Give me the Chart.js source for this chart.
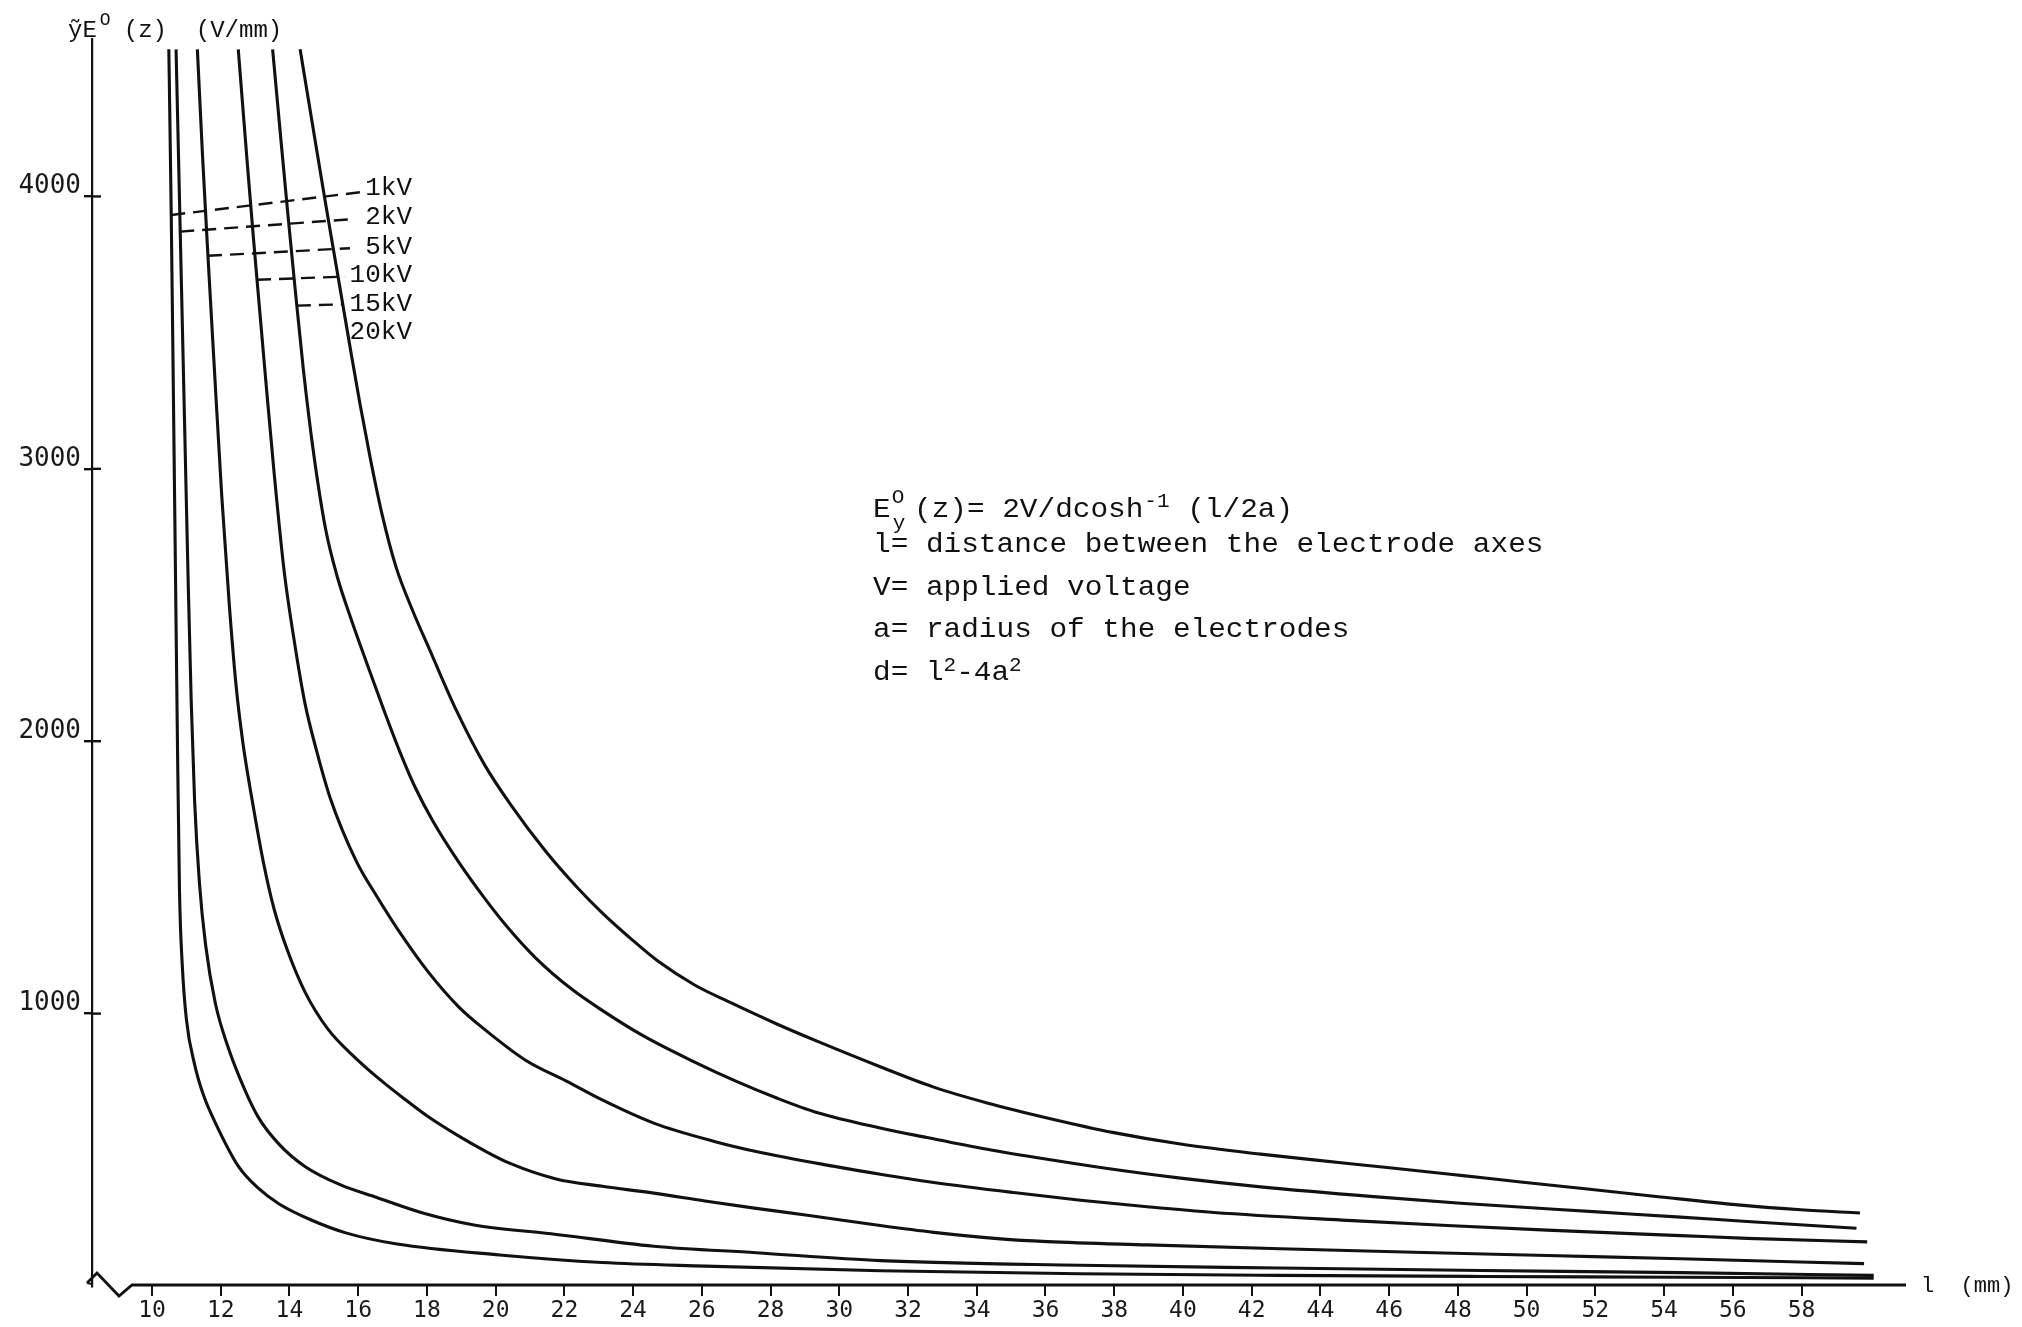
<!DOCTYPE html>
<html>
<head>
<meta charset="utf-8">
<title>Field strength between two cylindrical electrodes</title>
<script src="https://cdn.jsdelivr.net/npm/chart.js@4.4.1/dist/chart.umd.min.js"></script>
<style>
  html, body { margin: 0; padding: 0; background: #ffffff; }
  #wrap { width: 2022px; height: 1327px; position: relative; }
  canvas { display: block; }
</style>
</head>
<body>
<div id="wrap"><canvas id="chart" width="2022" height="1327"></canvas></div>
<script>
// Electrode spacing l (mm) and field strength E (V/mm) for each applied voltage
const seriesLabels = ['1kV', '2kV', '5kV', '10kV', '15kV', '20kV'];

const l_1kV = [10.49, 10.56, 10.62, 10.68, 10.74, 10.80, 10.88, 11.00, 11.24, 11.50, 11.84, 12.51, 13.10, 13.70, 14.60, 15.64, 17.13, 20.12, 23.10, 26.10, 31.20, 37.00, 42.80, 48.70, 54.50, 60.10];
const E_1kV = [4540, 3930, 3300, 2650, 2000, 1450, 1180, 980, 813, 700, 600, 440, 358, 301, 244, 195, 154, 114, 86, 73, 56, 45, 39, 35, 32, 29];

const l_2kV = [10.70, 10.78, 10.87, 10.96, 11.05, 11.14, 11.24, 11.38, 11.56, 11.84, 12.21, 12.66, 13.10, 13.70, 14.45, 15.49, 16.54, 17.88, 19.37, 21.61, 24.60, 27.58, 31.20, 37.00, 42.80, 48.70, 54.50, 60.10];
const E_2kV = [4540, 4100, 3600, 3100, 2600, 2150, 1780, 1480, 1252, 1040, 878, 732, 618, 520, 439, 371, 325, 268, 224, 192, 146, 122, 93, 76, 66, 57, 49, 39];

const l_5kV = [11.32, 11.47, 11.62, 11.80, 12.03, 12.25, 12.45, 12.65, 12.93, 13.25, 13.55, 13.93, 14.45, 15.12, 15.94, 16.69, 17.28, 18.03, 18.93, 19.67, 20.42, 21.76, 23.10, 24.60, 26.09, 27.58, 29.07, 31.19, 32.75, 34.69, 36.05, 38.96, 42.84, 46.72, 50.60, 54.48, 59.82];
const E_5kV = [4540, 4150, 3800, 3400, 2900, 2500, 2200, 1990, 1772, 1550, 1385, 1236, 1080, 943, 835, 752, 693, 622, 550, 497, 450, 393, 366, 341, 312, 285, 260, 222, 197, 173, 163, 151, 137, 124, 112, 100, 82];

const l_10kV = [12.51, 12.78, 12.95, 13.10, 13.30, 13.55, 13.85, 14.15, 14.45, 14.80, 15.19, 15.94, 16.54, 17.28, 18.03, 18.93, 19.67, 20.87, 22.06, 23.10, 24.60, 26.39, 27.58, 29.82, 31.19, 32.75, 35.07, 37.02, 38.96, 40.90, 44.78, 47.69, 50.60, 54.48, 56.42, 59.91];
const E_10kV = [4540, 4110, 3850, 3630, 3340, 2990, 2620, 2360, 2140, 1960, 1790, 1561, 1431, 1285, 1154, 1024, 943, 829, 752, 683, 598, 530, 494, 440, 410, 380, 343, 315, 291, 270, 241, 222, 205, 185, 175, 162];

const l_15kV = [13.51, 13.75, 13.95, 14.15, 14.40, 14.70, 15.05, 15.40, 15.79, 16.24, 16.76, 17.21, 17.66, 18.18, 18.93, 19.67, 20.34, 21.16, 22.21, 23.10, 24.30, 25.79, 26.99, 28.18, 29.37, 31.19, 32.55, 34.30, 36.05, 37.60, 39.93, 42.26, 45.55, 48.08, 52.06, 54.48, 56.42, 59.60];
const E_15kV = [4540, 4210, 3940, 3680, 3370, 3060, 2780, 2600, 2450, 2290, 2110, 1962, 1830, 1705, 1555, 1425, 1318, 1205, 1090, 1012, 918, 822, 752, 690, 636, 580, 545, 502, 465, 435, 396, 364, 328, 304, 272, 253, 237, 212];

const l_20kV = [14.31, 14.65, 15.03, 15.30, 15.55, 15.80, 16.05, 16.35, 16.70, 17.10, 17.55, 18.10, 18.85, 19.67, 20.42, 21.46, 22.36, 23.10, 24.00, 24.75, 25.79, 26.84, 28.18, 29.37, 31.19, 32.75, 34.30, 36.05, 37.99, 39.93, 42.26, 43.81, 45.94, 48.08, 49.83, 51.77, 53.90, 56.23, 57.98, 59.70];
const E_20kV = [4540, 4280, 3990, 3790, 3605, 3420, 3240, 3040, 2830, 2640, 2490, 2330, 2115, 1915, 1770, 1595, 1465, 1370, 1268, 1190, 1105, 1040, 962, 898, 805, 730, 672, 617, 563, 521, 484, 463, 435, 406, 382, 356, 327, 297, 280, 268];

// Axis ticks
const xTickValues = [10, 12, 14, 16, 18, 20, 22, 24, 26, 28, 30, 32, 34, 36, 38, 40, 42, 44, 46, 48, 50, 52, 54, 56, 58];
const yTickValues = [1000, 2000, 3000, 4000];

const distances = [l_1kV, l_2kV, l_5kV, l_10kV, l_15kV, l_20kV];
const fields = [E_1kV, E_2kV, E_5kV, E_10kV, E_15kV, E_20kV];

const INK = '#111111';
const MONO = '"Liberation Mono", "DejaVu Sans Mono", monospace';
const TICK_FONT = '"DejaVu Sans Mono", monospace';

// Draw text with a horizontal stretch (typewriter pitch)
function stretchText(ctx, s, px, py, size, sx, align, baseline) {
  ctx.save();
  ctx.translate(px, py);
  ctx.scale(sx, 1);
  ctx.font = size + 'px ' + MONO;
  ctx.textAlign = align || 'left';
  ctx.textBaseline = baseline || 'alphabetic';
  ctx.fillStyle = INK;
  ctx.fillText(s, 0, 0);
  const w = ctx.measureText(s).width * sx;
  ctx.restore();
  return w;
}

// Distance on a curve where it reaches a given field value
function distanceAtField(ls, es, e) {
  for (let i = 0; i < es.length - 1; i++) {
    if ((es[i] - e) * (es[i + 1] - e) <= 0) {
      const t = (e - es[i]) / (es[i + 1] - es[i]);
      return ls[i] + t * (ls[i + 1] - ls[i]);
    }
  }
  return ls[0];
}

// Voltage labels with dashed leaders to their curves (data units)
const leaderSpec = [
  { series: 0, fromE: 3932, toL: 16.10, toE: 4016, labelE: 4035 },
  { series: 1, fromE: 3871, toL: 15.86, toE: 3917, labelE: 3926 },
  { series: 2, fromE: 3782, toL: 15.76, toE: 3810, labelE: 3819 },
  { series: 3, fromE: 3694, toL: 15.62, toE: 3706, labelE: 3716 },
  { series: 4, fromE: 3599, toL: 15.57, toE: 3604, labelE: 3609 },
  { series: 5, fromE: null, labelE: 3504 }
];
const labelRightL = 17.566;

const notesPlugin = {
  id: 'notes',
  afterDraw(chart) {
    const ctx = chart.ctx;
    const a = chart.chartArea;
    const xs = chart.scales.x, ys = chart.scales.y;

    ctx.save();
    ctx.strokeStyle = INK;
    ctx.lineCap = 'butt';

    // Inner halves of the y tick marks
    ctx.lineWidth = 2.4;
    yTickValues.forEach(v => {
      const py = ys.getPixelForValue(v);
      ctx.beginPath();
      ctx.moveTo(a.left, py);
      ctx.lineTo(a.left + 9, py);
      ctx.stroke();
    });

    // Axis break and the l axis line
    ctx.lineWidth = 2.8;
    ctx.lineJoin = 'miter';
    ctx.beginPath();
    ctx.moveTo(a.left - 5, a.bottom - 3);
    ctx.lineTo(a.left + 5, a.bottom - 13);
    ctx.lineTo(a.left + 27, a.bottom + 10);
    ctx.lineTo(a.left + 40, a.bottom - 1);
    ctx.lineTo(a.right, a.bottom - 1);
    ctx.stroke();
    ctx.beginPath();
    ctx.lineWidth = 2;
    ctx.moveTo(a.left, a.bottom - 2);
    ctx.lineTo(a.left - 5, a.bottom - 3);
    ctx.stroke();

    // Dashed leaders
    ctx.lineWidth = 2.4;
    ctx.setLineDash([14, 8]);
    leaderSpec.forEach(sp => {
      if (sp.fromE === null) return;
      const l0 = distanceAtField(distances[sp.series], fields[sp.series], sp.fromE);
      ctx.beginPath();
      ctx.moveTo(xs.getPixelForValue(l0), ys.getPixelForValue(sp.fromE));
      ctx.lineTo(xs.getPixelForValue(sp.toL), ys.getPixelForValue(sp.toE));
      ctx.stroke();
    });
    ctx.setLineDash([]);

    // Voltage labels
    const lx = xs.getPixelForValue(labelRightL);
    leaderSpec.forEach(sp => {
      stretchText(ctx, seriesLabels[sp.series], lx, ys.getPixelForValue(sp.labelE) + 1, 26, 1.0, 'right', 'middle');
    });

    // Ordinate title
    let tx = a.left - 24;
    const tb = a.top - 2;
    tx += stretchText(ctx, 'ỹE', tx, tb, 24, 1.0);
    stretchText(ctx, 'O', tx + 3, tb - 12, 18, 1.0);
    stretchText(ctx, '(z)  (V/mm)', tx + 27, tb, 24, 1.0);

    // Abscissa title
    stretchText(ctx, 'l  (mm)', a.right + 15, a.bottom + 6, 22, 1.0);

    // Formula block
    const fx = 873, sx = 1.05, fs = 28, ss = 20;
    let b = 517;
    let cx = fx;
    cx += stretchText(ctx, 'E', cx, b, fs, sx);
    stretchText(ctx, 'O', cx + 1, b - 14, ss, sx);
    stretchText(ctx, 'y', cx + 2, b + 12, ss, sx);
    cx = fx + 41;
    cx += stretchText(ctx, '(z)= 2V/dcosh', cx, b, fs, sx);
    cx += stretchText(ctx, '-1', cx + 1, b - 10, ss, sx) + 1;
    stretchText(ctx, ' (l/2a)', cx, b, fs, sx);

    stretchText(ctx, 'l= distance between the electrode axes', fx, 552, fs, sx);
    stretchText(ctx, 'V= applied voltage', fx, 595, fs, sx);
    stretchText(ctx, 'a= radius of the electrodes', fx, 637, fs, sx);

    b = 680;
    cx = fx;
    cx += stretchText(ctx, 'd= l', cx, b, fs, sx);
    cx += stretchText(ctx, '2', cx, b - 9, ss, sx);
    cx += stretchText(ctx, '-4a', cx, b, fs, sx);
    stretchText(ctx, '2', cx, b - 9, ss, sx);

    ctx.restore();
  }
};

const datasets = seriesLabels.map((name, i) => ({
  label: name,
  data: distances[i].map((l, k) => ({ x: l, y: fields[i][k] })),
  borderColor: INK,
  borderWidth: 3.1,
  pointRadius: 0,
  fill: false,
  cubicInterpolationMode: 'monotone'
}));

new Chart(document.getElementById('chart').getContext('2d'), {
  type: 'line',
  data: { datasets },
  options: {
    responsive: false,
    animation: false,
    devicePixelRatio: 1,
    layout: { padding: { left: 0, right: 116, top: 39, bottom: 0 } },
    plugins: { legend: { display: false }, tooltip: { enabled: false } },
    scales: {
      x: {
        type: 'linear',
        min: 8.254,
        max: 61.04,
        afterFit(scale) { scale.height = 41; },
        afterBuildTicks(scale) { scale.ticks = xTickValues.map(v => ({ value: v })); },
        grid: { drawOnChartArea: false, drawTicks: true, tickLength: 10, color: INK, lineWidth: 2 },
        border: { display: false },
        ticks: {
          autoSkip: false, maxRotation: 0, padding: 1,
          color: '#1a1a1a',
          font: { family: TICK_FONT, size: 23 },
          callback: v => String(v)
        }
      },
      y: {
        type: 'linear',
        min: 0,
        max: 4578,
        afterFit(scale) { scale.width = 92; },
        afterBuildTicks(scale) { scale.ticks = yTickValues.map(v => ({ value: v })); },
        grid: { drawOnChartArea: false, drawTicks: true, tickLength: 8, color: INK, lineWidth: 2.4 },
        border: { display: true, color: INK, width: 2.2 },
        ticks: {
          autoSkip: false, padding: 3, labelOffset: -10,
          color: '#1a1a1a',
          font: { family: TICK_FONT, size: 26 },
          callback: v => String(v)
        }
      }
    }
  },
  plugins: [notesPlugin]
});
</script>
</body>
</html>
